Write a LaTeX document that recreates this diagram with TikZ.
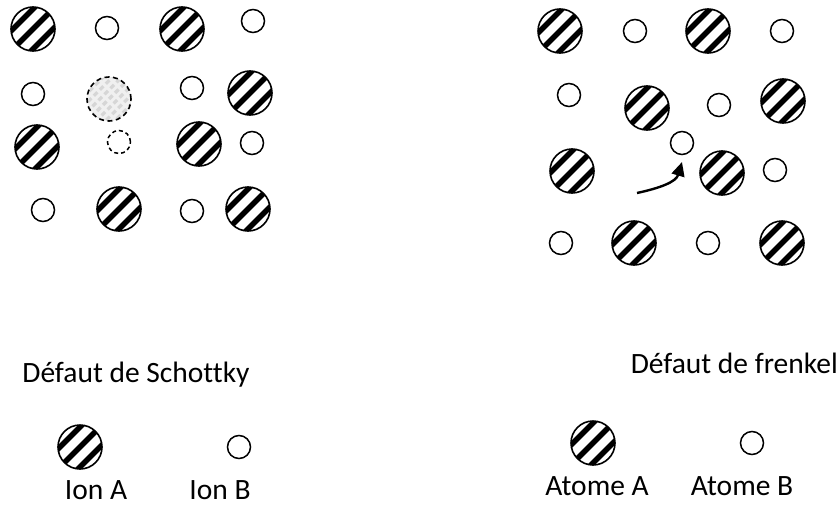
\documentclass[tikz,border=0pt]{standalone}
\usepackage{fontspec}
\setmainfont[Ligatures=NoCommon]{Carlito}
\usetikzlibrary{arrows.meta}
\begin{document}
\begin{tikzpicture}[x=1pt,y=-1pt,
  % large ion/atom A: circle with three black diagonal stripes
  ionA/.style={circle, draw, line width=1.6pt, minimum size=44pt, inner sep=0pt,
    path picture={\foreach \s in {-1,0,1}{
      \draw[line width=5.6pt] ([shift={(\s*10-30,\s*10+30)}]path picture bounding box.center) -- ++(60,-60);}}},
  % vacancy left by an A ion: pale stripes, dashed outline
  vacA/.style={circle, draw, dash pattern=on 5pt off 3.5pt, line width=1.6pt,
    minimum size=44pt, inner sep=0pt, fill=gray!12,
    path picture={\foreach \s in {-3,...,3}{
      \draw[gray!32, line width=3.2pt] ([shift={(\s*4.6-30,\s*4.6+30)}]path picture bounding box.center) -- ++(60,-60);}}},
  % small ion/atom B
  ionB/.style={circle, draw, line width=1.5pt, minimum size=23pt, inner sep=0pt, fill=white},
  % vacancy left by a B ion
  vacB/.style={circle, draw, dash pattern=on 4pt off 3pt, line width=1.5pt, minimum size=23pt, inner sep=0pt},
  lbl/.style={font=\fontsize{29.5}{35}\selectfont, inner sep=0pt, anchor=base},
  jump/.style={line width=2.4pt, -{Triangle[length=14pt,width=13pt]}}
]
\useasboundingbox (0,0) rectangle (840,506);

% ---- Schottky defect lattice ----
\node[ionA] (s11) at (33,29) {};
\node[ionB] (s12) at (107,28) {};
\node[ionA] (s13) at (182,29) {};
\node[ionB] (s14) at (253,21) {};
\node[ionB] (s21) at (33,94) {};
\node[vacA] (s22) at (109,99) {};
\node[ionB] (s23) at (192,88) {};
\node[ionA] (s24) at (250,93) {};
\node[ionA] (s31) at (37,147) {};
\node[vacB] (s32) at (119,142) {};
\node[ionA] (s33) at (199,144) {};
\node[ionB] (s34) at (252,143) {};
\node[ionB] (s41) at (43,210) {};
\node[ionA] (s42) at (119,209) {};
\node[ionB] (s43) at (192,211) {};
\node[ionA] (s44) at (248,209) {};

% ---- Frenkel defect lattice ----
\node[ionA] (f11) at (560,31) {};
\node[ionB] (f12) at (635,31) {};
\node[ionA] (f13) at (708,31) {};
\node[ionB] (f14) at (782,31) {};
\node[ionB] (f21) at (569,95) {};
\node[ionA] (f22) at (647,108) {};
\node[ionB] (f23) at (719,105) {};
\node[ionA] (f24) at (783,101) {};
\node[ionB] (fint) at (682,143) {};
\node[ionA] (f31) at (572,171) {};
\node[ionA] (f33) at (722,173) {};
\node[ionB] (f34) at (775,170) {};
\node[ionB] (f41) at (561,243) {};
\node[ionA] (f42) at (634,243) {};
\node[ionB] (f43) at (708,243) {};
\node[ionA] (f44) at (782,243) {};

% jump of an atom into the interstitial site
\coordinate (jfrom) at (637,193);
\coordinate (jto) at (682,162);
\draw[jump] (jfrom) .. controls (660,188) and (676,182) .. (jto);

% ---- titles ----
\node[lbl] (tS) at (136,382) {Défaut de Schottky};
\node[lbl, anchor=base east] (tF) at (838,373) {Défaut de frenkel};

% ---- legends ----
\node[ionA] (kA) at (80,447) {};
\node[ionB] (kB) at (239,447) {};
\node[lbl] (kAl) at (96,499) {Ion A};
\node[lbl] (kBl) at (220,499) {Ion B};

\node[ionA] (mA) at (593,443) {};
\node[ionB] (mB) at (752,443) {};
\node[lbl] (mAl) at (597,495) {Atome A};
\node[lbl] (mBl) at (742,495) {Atome B};
\end{tikzpicture}
\end{document}
